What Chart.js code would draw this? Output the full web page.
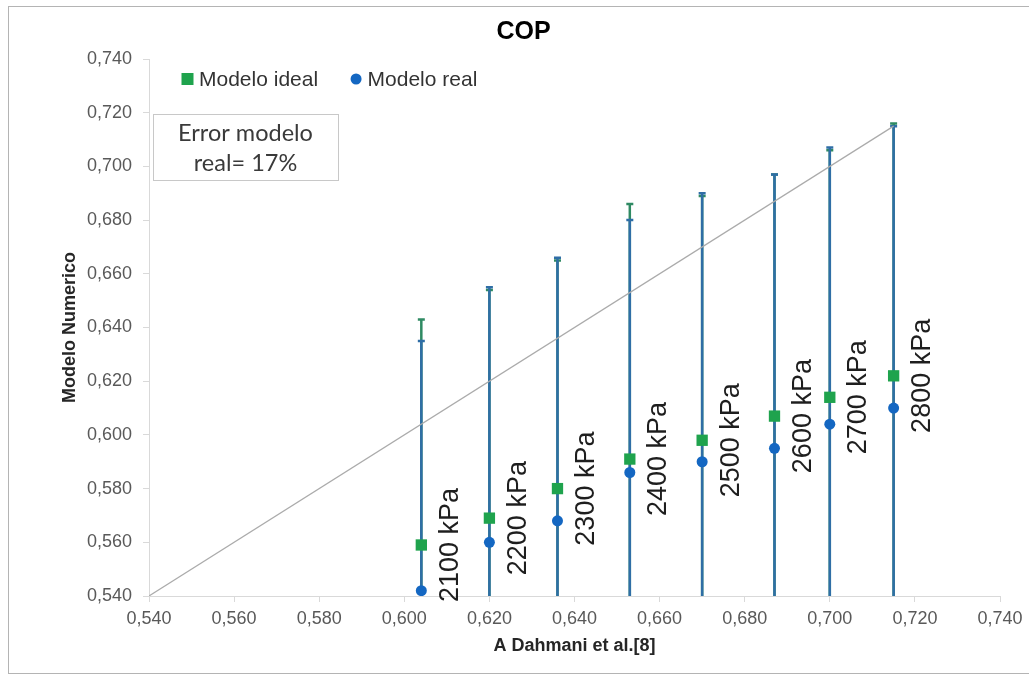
<!DOCTYPE html>
<html>
<head>
<meta charset="utf-8">
<script src="https://cdn.jsdelivr.net/npm/chart.js@4.4.1/dist/chart.umd.min.js"></script>
<style>
  body { margin: 0; background: #fff; }
</style>
</head>
<body>
<canvas id="copChart" width="1029" height="675"></canvas>
<script>
// datos
const presiones = ['2100 kPa', '2200 kPa', '2300 kPa', '2400 kPa', '2500 kPa', '2600 kPa', '2700 kPa', '2800 kPa'];
const xDahmani = [0.604, 0.620, 0.636, 0.653, 0.670, 0.687, 0.700, 0.715];
const yIdeal = [0.559, 0.569, 0.580, 0.591, 0.598, 0.607, 0.614, 0.622];
const yReal = [0.542, 0.560, 0.568, 0.586, 0.590, 0.595, 0.604, 0.610];
// extremo superior de las barras de error
const topIdeal = [0.643, 0.654, 0.665, 0.686, 0.689, 0.697, 0.706, 0.716];
const topReal = [0.635, 0.655, 0.666, 0.680, 0.690, 0.697, 0.707, 0.715];
// linea de referencia
const lineaX = [0.540, 0.715];
const lineaY = [0.540, 0.715];
// ejes
const ejeValores = [0.54, 0.56, 0.58, 0.60, 0.62, 0.64, 0.66, 0.68, 0.70, 0.72, 0.74];
const ejeTicks = ['0,540', '0,560', '0,580', '0,600', '0,620', '0,640', '0,660', '0,680', '0,700', '0,720', '0,740'];
const textoCaja = ['Error modelo', 'real= 17%'];

const verde = '#1fa34d';
const azul = '#1467c2';
const verdeError = '#2f8a63';
const azulError = '#2f6ea6';

Chart.defaults.font.family = "'Liberation Sans', Arial, sans-serif";

const marco = {
  id: 'marco',
  beforeDraw(chart) {
    const ctx = chart.ctx;
    ctx.save();
    ctx.fillStyle = '#fff';
    ctx.fillRect(0, 0, chart.width, chart.height);
    ctx.strokeStyle = '#b4b4b4';
    ctx.lineWidth = 1;
    ctx.strokeRect(8.5, 6.5, chart.width, 667);
    ctx.restore();
  }
};

const barrasError = {
  id: 'barrasError',
  beforeDatasetsDraw(chart) {
    const {ctx, chartArea, scales: {x, y}} = chart;
    ctx.save();
    ctx.beginPath();
    ctx.rect(chartArea.left, chartArea.top - 2, chartArea.width, chartArea.height + 2);
    ctx.clip();
    [[yIdeal, topIdeal, verdeError], [yReal, topReal, azulError]].forEach(([ys, tops, color]) => {
      ctx.strokeStyle = color;
      ctx.lineWidth = 2.5;
      xDahmani.forEach((xv, i) => {
        const px = x.getPixelForValue(xv);
        const pTop = y.getPixelForValue(tops[i]);
        const pLow = y.getPixelForValue(2 * ys[i] - tops[i]);
        ctx.beginPath();
        ctx.moveTo(px, pTop);
        ctx.lineTo(px, pLow);
        ctx.moveTo(px - 3.5, pTop);
        ctx.lineTo(px + 3.5, pTop);
        ctx.stroke();
      });
    });
    ctx.restore();
  }
};

const etiquetas = {
  id: 'etiquetas',
  afterDatasetsDraw(chart) {
    const {ctx, scales: {x, y}} = chart;
    ctx.save();
    ctx.fillStyle = '#1e1e1e';
    ctx.font = "27px 'Liberation Sans', Arial, sans-serif";
    ctx.textAlign = 'center';
    ctx.textBaseline = 'middle';
    presiones.forEach((txt, i) => {
      ctx.save();
      ctx.translate(x.getPixelForValue(xDahmani[i]) + 29, y.getPixelForValue(yIdeal[i]));
      ctx.rotate(-Math.PI / 2);
      ctx.fillText(txt, 0, 0);
      ctx.restore();
    });
    ctx.restore();
  },
  afterDraw(chart) {
    const {ctx, chartArea} = chart;
    ctx.save();

    // leyenda dentro del area
    ctx.font = "21px 'Liberation Sans', Arial, sans-serif";
    ctx.textBaseline = 'middle';
    ctx.textAlign = 'left';
    let lx = chartArea.left + 38.5;
    const ly = chartArea.top + 20;
    chart.data.datasets.slice(0, 2).forEach((ds, i) => {
      ctx.fillStyle = ds.backgroundColor;
      if (ds.pointStyle === 'rect') {
        ctx.fillRect(lx - 6, ly - 6, 12, 12);
      } else {
        ctx.beginPath();
        ctx.arc(lx, ly, 5.5, 0, Math.PI * 2);
        ctx.fill();
      }
      ctx.fillStyle = '#333';
      ctx.fillText(ds.label, lx + 11.5, ly + 1);
      lx += 11.5 + ctx.measureText(ds.label).width + 38;
    });

    // cuadro de texto "Error modelo real"
    const bx = chartArea.left + 4, by = chartArea.top + 55;
    const bw = 185, bh = 66;
    ctx.fillStyle = '#fff';
    ctx.fillRect(bx, by, bw, bh);
    ctx.strokeStyle = '#c8c8c8';
    ctx.lineWidth = 1;
    ctx.strokeRect(bx + 0.5, by + 0.5, bw, bh);
    ctx.font = "20px Lato, 'Open Sans', sans-serif";
    const escala = 135 / ctx.measureText(textoCaja[0]).width;
    ctx.font = (20 * escala).toFixed(1) + "px Lato, 'Open Sans', sans-serif";
    ctx.fillStyle = '#3a3a3a';
    ctx.textAlign = 'center';
    ctx.fillText(textoCaja[0], bx + bw / 2, by + 19);
    ctx.fillText(textoCaja[1], bx + bw / 2, by + 49);
    ctx.restore();
  }
};

const ejeComun = {
  min: 0.54,
  max: 0.74,
  afterBuildTicks(scale) {
    scale.ticks = ejeValores.map(v => ({value: v}));
  },
  border: { display: true, color: '#d9d9d9', width: 1 },
  grid: { display: true, drawOnChartArea: false, drawTicks: true, tickLength: 6, color: '#d9d9d9' }
};

new Chart(document.getElementById('copChart'), {
  type: 'scatter',
  data: {
    datasets: [
      {
        label: 'Modelo ideal',
        data: xDahmani.map((v, i) => ({x: v, y: yIdeal[i]})),
        pointStyle: 'rect',
        pointRadius: 8,
        backgroundColor: verde,
        borderColor: verde,
        borderWidth: 0
      },
      {
        label: 'Modelo real',
        data: xDahmani.map((v, i) => ({x: v, y: yReal[i]})),
        pointStyle: 'circle',
        pointRadius: 5.5,
        backgroundColor: azul,
        borderColor: azul,
        borderWidth: 0
      },
      {
        type: 'line',
        label: 'Referencia',
        data: lineaX.map((v, i) => ({x: v, y: lineaY[i]})),
        borderColor: '#ababab',
        borderWidth: 1.2,
        pointRadius: 0,
        fill: false
      }
    ]
  },
  options: {
    responsive: false,
    animation: false,
    layout: { padding: { left: 18, right: 0, top: 0, bottom: 0 } },
    plugins: {
      tooltip: { enabled: false },
      legend: { display: false },
      title: {
        display: true,
        text: 'COP',
        color: '#000',
        font: { size: 25, weight: 'bold' },
        padding: { top: 17, bottom: 12 }
      }
    },
    scales: {
      x: Object.assign({}, ejeComun, {
        type: 'linear',
        position: 'bottom',
        ticks: {
          padding: 6,
          color: '#595959',
          font: { size: 18 },
          maxRotation: 0,
          callback: (v, i) => ejeTicks[i]
        },
        title: {
          display: true,
          text: 'A Dahmani et al.[8]',
          color: '#262626',
          font: { size: 18, weight: 'bold' },
          padding: { top: 0, bottom: 18 }
        },
        afterFit(scale) {
          scale.height = 79;
          scale.paddingLeft = 0;
          scale.paddingRight = 29;
        }
      }),
      y: Object.assign({}, ejeComun, {
        type: 'linear',
        position: 'left',
        ticks: {
          padding: 11,
          color: '#595959',
          font: { size: 18 },
          callback: (v, i) => ejeTicks[i]
        },
        title: {
          display: true,
          text: 'Modelo Numerico',
          color: '#262626',
          font: { size: 18, weight: 'bold' },
          padding: { top: 41, bottom: 0 }
        },
        afterFit(scale) {
          scale.width = 131;
          scale.paddingTop = 0;
          scale.paddingBottom = 0;
        }
      })
    }
  },
  plugins: [marco, barrasError, etiquetas]
});
</script>
</body>
</html>
